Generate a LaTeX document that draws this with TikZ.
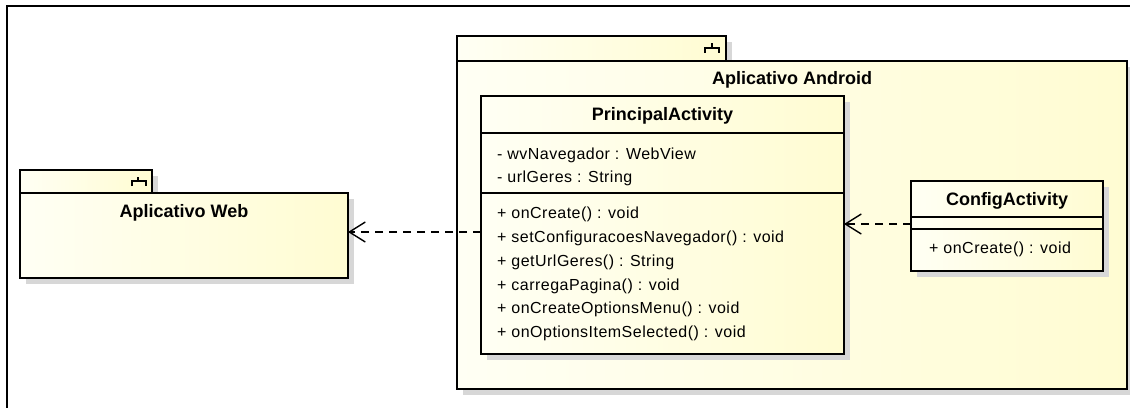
\documentclass[tikz,border=0pt]{standalone}
\usepackage{fontspec}
\setmainfont{Liberation Sans}
\usetikzlibrary{arrows.meta,shadows,calc}
\definecolor{pkgL}{RGB}{255,255,244}
\definecolor{pkgR}{RGB}{255,252,210}
\definecolor{shd}{RGB}{215,215,215}
\begin{document}
\begin{tikzpicture}[x=1pt,y=-1pt,
  umlbox/.style={draw=black, line width=2.6pt, inner sep=0pt, outer sep=0pt,
    left color=pkgL, right color=pkgR,
    general shadow={fill=shd, shadow xshift=6pt, shadow yshift=-6pt}},
  sep/.style={line width=1.3pt},
  title/.style={font=\fontsize{18}{20}\selectfont\bfseries, inner sep=0pt},
  member/.style={font=\fontsize{16}{20}\selectfont\addfontfeatures{LetterSpace=3}, anchor=west, inner sep=0pt},
  dep/.style={line width=1.4pt, dash pattern=on 8pt off 6pt,
    -{Straight Barb[length=16pt,width=20pt,line width=1.4pt]}},
  pkgicon/.style={line width=1.2pt}
]
\useasboundingbox (0,0) rectangle (1130,408);
\fill[white] (0,0) rectangle (1130,408);
% outer frame
\coordinate (frTR) at (1130,6);
\coordinate (frTL) at (7,6);
\coordinate (frBL) at (7,408);
\draw[line width=2pt] (frTR) -- (frTL) -- (frBL);

% Aplicativo Web package
\node[umlbox, anchor=north west, minimum width=132pt, minimum height=23pt] (webtab) at (20,170) {};
\node[umlbox, anchor=north west, minimum width=328pt, minimum height=85pt] (webpkg) at (20,193) {};
\node[title] (webtitle) at (184,213) {Aplicativo Web};
\draw[pkgicon] ($(webtab.north east)+(-14,7)$) -- ($(webtab.north east)+(-14,11)$);
\draw[pkgicon] ($(webtab.north east)+(-20,16)$) -- ($(webtab.north east)+(-20,11)$) -- ($(webtab.north east)+(-6,11)$) -- ($(webtab.north east)+(-6,16)$);

% Aplicativo Android package
\node[umlbox, anchor=north west, minimum width=269pt, minimum height=25pt] (andtab) at (457,36) {};
\node[umlbox, anchor=north west, minimum width=670pt, minimum height=328pt] (andpkg) at (457,61) {};
\node[title] (andtitle) at (792,80) {Aplicativo Android};
\draw[pkgicon] ($(andtab.north east)+(-14,7)$) -- ($(andtab.north east)+(-14,12)$);
\draw[pkgicon] ($(andtab.north east)+(-21,17)$) -- ($(andtab.north east)+(-21,12)$) -- ($(andtab.north east)+(-7,12)$) -- ($(andtab.north east)+(-7,17)$);

% PrincipalActivity class
\node[umlbox, anchor=north west, minimum width=363pt, minimum height=258pt] (principal) at (481,96) {};
\node[title] (pname) at (662.5,116) {PrincipalActivity};
\draw[sep] (principal.west |- 0,133) -- (principal.east |- 0,133);
\draw[sep] (principal.west |- 0,193) -- (principal.east |- 0,193);
\node[member] (pa1) at (497,155) {- wvNavegador : WebView};
\node[member] (pa2) at (497,178) {- urlGeres : String};
\node[member] (po1) at (497,214) {+ onCreate() : void};
\node[member] (po2) at (497,238) {+ setConfiguracoesNavegador() : void};
\node[member] (po3) at (497,262) {+ getUrlGeres() : String};
\node[member] (po4) at (497,286) {+ carregaPagina() : void};
\node[member] (po5) at (497,309) {+ onCreateOptionsMenu() : void};
\node[member] (po6) at (497,333) {+ onOptionsItemSelected() : void};

% ConfigActivity class
\node[umlbox, anchor=north west, minimum width=192pt, minimum height=90pt] (config) at (911,181) {};
\node[title] (cname) at (1007,201) {ConfigActivity};
\draw[sep] (config.west |- 0,217) -- (config.east |- 0,217);
\draw[sep] (config.west |- 0,229) -- (config.east |- 0,229);
\node[member] (co1) at (929,249) {+ onCreate() : void};

% dependencies
\draw[dep] (principal.west |- 0,232) -- (webpkg.east |- 0,232);
\draw[dep] (config.west |- 0,224) -- (principal.east |- 0,224);
\end{tikzpicture}
\end{document}
